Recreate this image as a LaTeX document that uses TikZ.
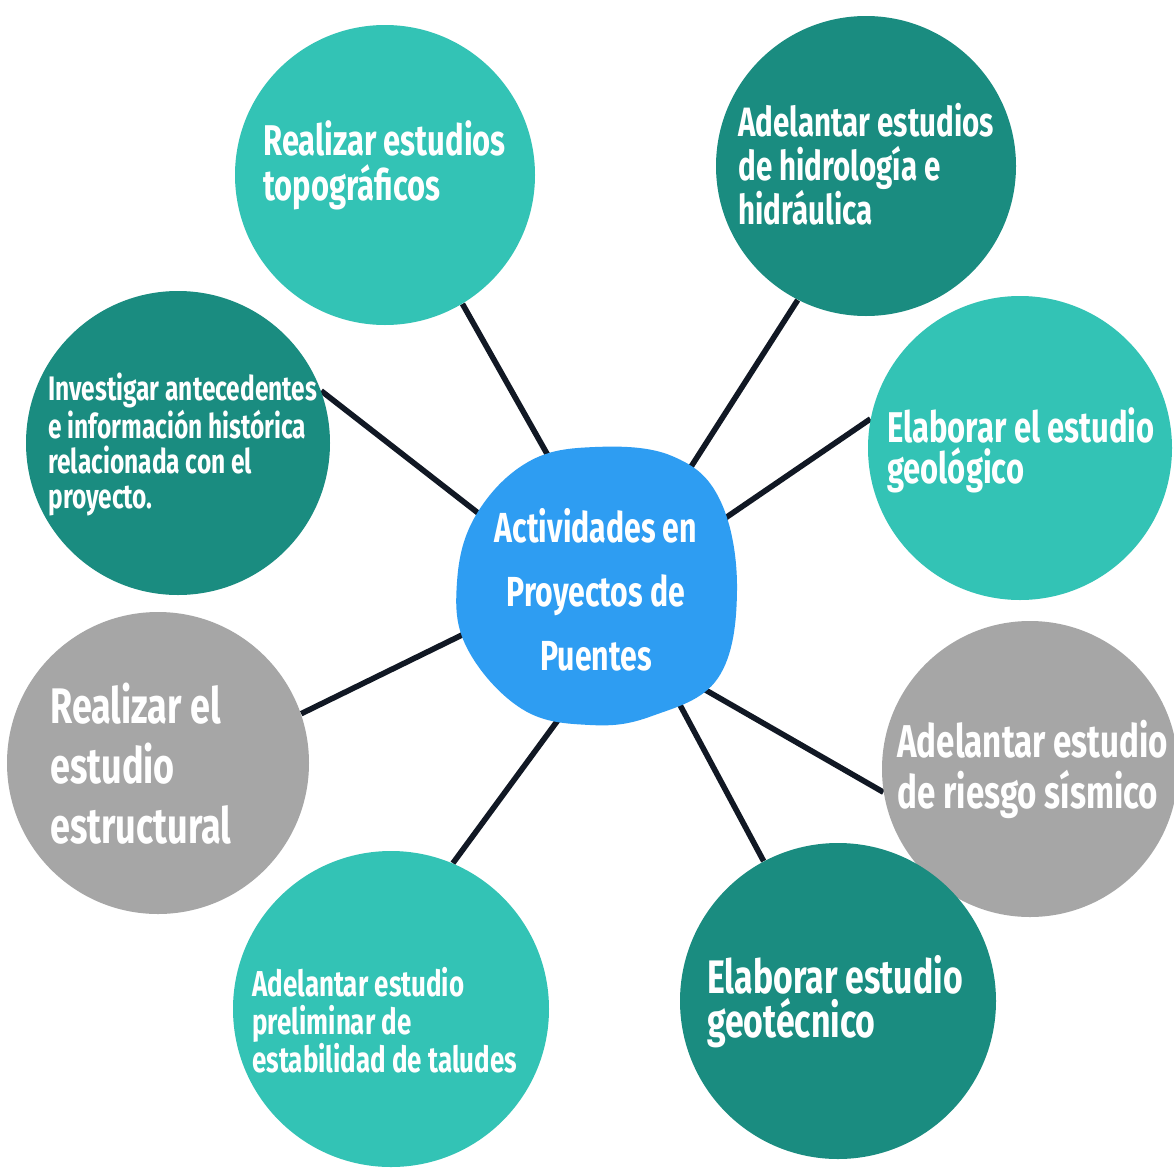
\documentclass[tikz,border=0pt]{standalone}
\usepackage{fontspec}
\setmainfont{Fira Sans}[FakeStretch=0.72]
\usetikzlibrary{backgrounds}
\definecolor{lteal}{HTML}{33C3B5}
\definecolor{dteal}{HTML}{1A8C80}
\definecolor{cgray}{HTML}{A6A6A6}
\definecolor{cblue}{HTML}{2E9DF2}
\definecolor{cline}{HTML}{111824}
\tikzset{
  bubble/.style={circle, inner sep=0pt, minimum size=#1*1pt},
  label/.style={anchor=base west, inner sep=0pt, align=left, text=white},
  conn/.style={draw=cline, line width=2.8pt},
}
\begin{document}
\begin{tikzpicture}[x=0.5pt,y=-0.5pt]
\useasboundingbox (0,0) rectangle (1173,1173);
% outer bubbles
\node[bubble=150, fill=lteal] (n1) at (385,175) {};
\node[bubble=150, fill=dteal] (n2) at (866,166) {};
\node[bubble=152, fill=dteal] (n3) at (178,443) {};
\node[bubble=152, fill=lteal] (n4) at (1020,448) {};
\node[bubble=151, fill=cgray] (n5) at (158,763) {};
\node[bubble=148, fill=cgray] (n6) at (1030,769) {};
\node[bubble=158, fill=lteal] (n7) at (391,1009) {};
\node[bubble=158, fill=dteal] (n8) at (838,1001) {};
% center
\fill[cblue] plot[smooth cycle, tension=0.65] coordinates {(595,447) (672,456) (720,500) (737,590) (718,678) (652,716) (590,725) (522,709) (467,648) (457,582) (476,515) (528,462)};
\node[bubble=100] (c) at (594,588) {};
% connectors
\begin{pgfonlayer}{background}
\fill[white] (0,0) rectangle (1173,1173);
\draw[conn] (n1.-59) -- (c.105);
\draw[conn] (n2.-117) -- (c.48);
\draw[conn] (n3.20) -- (c.149);
\draw[conn] (n4.169) -- (c.25);
\draw[conn] (n5.19) -- (c.197);
\draw[conn] (n6.189) -- (c.-49);
\draw[conn] (n8.118) -- (c.-50);
\draw[conn] (n7.67) -- (c.-97);
\end{pgfonlayer}
% texts (anchored at the baseline of the last line)
\node[label, font=\bfseries\fontsize{21.5}{22.5}\selectfont] (t1) at (263,200) {Realizar estudios\\topográficos};
\node[label, font=\bfseries\fontsize{20.5}{22}\selectfont] (t2) at (738,224) {Adelantar estudios\\de hidrología e\\hidráulica};
\node[label, font=\bfseries\fontsize{17}{17.5}\selectfont] (t3) at (48,508) {Investigar antecedentes\\e información histórica\\relacionada con el\\proyecto.};
\node[label, font=\bfseries\fontsize{21.5}{20.5}\selectfont] (t4) at (887,483) {Elaborar el estudio\\geológico};
\node[label, font=\bfseries\fontsize{25}{30}\selectfont] (t5) at (50,843) {Realizar el\\estudio\\estructural};
\node[label, font=\bfseries\fontsize{23}{25.5}\selectfont] (t6) at (897,808) {Adelantar estudio\\de riesgo sísmico};
\node[label, font=\bfseries\fontsize{18}{19}\selectfont] (t7) at (252,1072) {Adelantar estudio\\preliminar de\\estabilidad de taludes};
\node[label, font=\bfseries\fontsize{23.5}{22}\selectfont] (t8) at (707,1037) {Elaborar estudio\\geotécnico};
\node[anchor=base, inner sep=0pt, align=center, text=white, font=\bfseries\fontsize{21}{32}\selectfont] (tc) at (596,670) {Actividades en\\Proyectos de\\Puentes};
\end{tikzpicture}
\end{document}
